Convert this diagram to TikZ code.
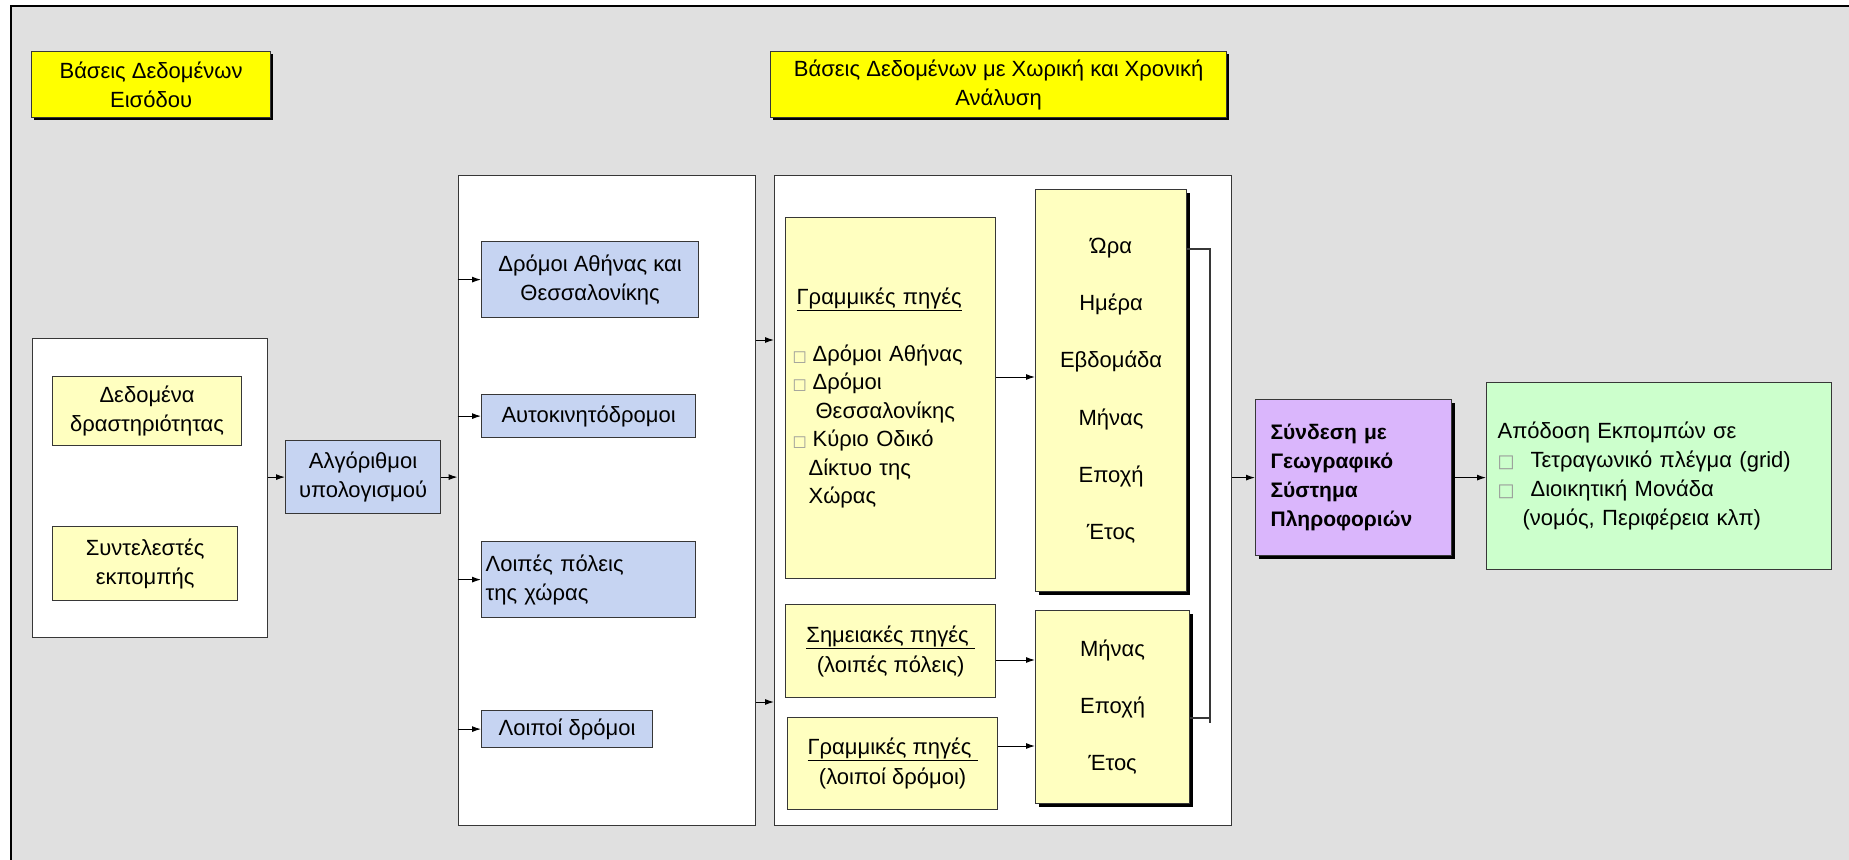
\documentclass[tikz,border=0pt]{standalone}
\usepackage{fontspec}
\setmainfont{Liberation Sans}
\newfontfamily\bulfont{DejaVu Sans}
\usetikzlibrary{arrows.meta,shadows}
\definecolor{bg}{RGB}{224,224,224}
\definecolor{ttl}{RGB}{255,255,0}
\definecolor{ly}{RGB}{255,255,192}
\definecolor{lb}{RGB}{198,212,242}
\definecolor{pur}{RGB}{218,182,252}
\definecolor{grn}{RGB}{204,255,204}
\definecolor{edgec}{RGB}{55,55,55}
\definecolor{bulg}{RGB}{150,150,150}
\newcommand\bulsq{{\bulfont\fontsize{15}{15}\selectfont\color{bulg}□}}
\newcommand\bulsqb{{\bulfont\fontsize{18}{18}\selectfont\color{bulg}□}}
\begin{document}
\begin{tikzpicture}[x=1pt,y=-1pt,
  base/.style={draw=edgec, line width=1.2pt, inner sep=0pt, anchor=north west,
    font=\fontsize{22}{29}\selectfont, align=center},
  panel/.style={base, fill=white},
  ttlbox/.style={base, fill=ttl, drop shadow={shadow xshift=2.5pt, shadow yshift=-2.5pt, fill=black, opacity=1}},
  lybox/.style={base, fill=ly},
  lbbox/.style={base, fill=lb},
  tbox/.style={base, fill=ly, font=\fontsize{22}{57.3}\selectfont,
    drop shadow={shadow xshift=3.5pt, shadow yshift=-3.5pt, fill=black, opacity=1}},
  arr/.style={draw=black, line width=1pt, -{Latex[length=9pt,width=6pt]}},
  conn/.style={draw=edgec, line width=1.2pt}
]
\useasboundingbox (0,0) rectangle (1849,859);
\fill[white] (0,0) rectangle (1849,859);
\fill[bg] (11,6) rectangle (1860,870);
\draw[black, line width=2.6pt] (11,880) -- (11,6) -- (1870,6);

% titles
\node[ttlbox, minimum width=239pt, minimum height=66pt] (intitle) at (31,51) {Βάσεις Δεδομένων\\Εισόδου};
\node[ttlbox, minimum width=456pt, minimum height=66pt] (midtitle) at (770,51) {Βάσεις Δεδομένων με Χωρική και Χρονική\\Ανάλυση};

% left panel
\node[panel, minimum width=235pt, minimum height=299pt] (lp) at (31.5,338) {};
\node[lybox, minimum width=189pt, minimum height=69pt] (dd) at (52,376) {Δεδομένα\\δραστηριότητας};
\node[lybox, minimum width=185pt, minimum height=74pt] (se) at (52,526) {Συντελεστές\\εκπομπής};

% algorithm
\node[lbbox, minimum width=155pt, minimum height=73pt] (algo) at (285,440) {Αλγόριθμοι\\υπολογισμού};

% middle panel
\node[panel, minimum width=297pt, minimum height=650pt] (mp) at (457.5,175) {};
\node[lbbox, minimum width=217pt, minimum height=76pt] (b1) at (481,241) {Δρόμοι Αθήνας και\\Θεσσαλονίκης};
\node[lbbox, minimum width=214pt, minimum height=43pt] (b2) at (481,394) {Αυτοκινητόδρομοι};
\node[lbbox, minimum width=214pt, minimum height=76pt, align=left, text width=206pt, inner xsep=4pt] (b3) at (481,541) {Λοιπές πόλεις\\της χώρας};
\node[lbbox, minimum width=171pt, minimum height=37pt] (b4) at (481,710) {Λοιποί δρόμοι};

% right panel
\node[panel, minimum width=457pt, minimum height=650pt] (rp) at (774,175) {};
\node[lybox, minimum width=210pt, minimum height=361pt, align=left, text width=196pt, inner xsep=7pt,
  font=\fontsize{22}{28.5}\selectfont] (gp) at (785,217)
  {\hspace*{4pt}\underline{Γραμμικές πηγές}\\[28.5pt]
   \makebox[20pt][l]{\bulsq}Δρόμοι Αθήνας\\
   \makebox[20pt][l]{\bulsq}Δρόμοι\\
   \hspace*{23pt}Θεσσαλονίκης\\
   \makebox[20pt][l]{\bulsq}Κύριο Οδικό\\
   \hspace*{16pt}Δίκτυο της\\
   \hspace*{16pt}Χώρας};
\node[tbox, minimum width=151pt, minimum height=402pt] (t1) at (1035,189) {Ώρα\\Ημέρα\\Εβδομάδα\\Μήνας\\Εποχή\\Έτος};
\node[lybox, minimum width=210pt, minimum height=93pt, font=\fontsize{22}{30}\selectfont] (sp) at (785,604) {\underline{Σημειακές πηγές\ }\\(λοιπές πόλεις)};
\node[lybox, minimum width=210pt, minimum height=92pt, font=\fontsize{22}{30}\selectfont] (gl) at (787,717) {\underline{Γραμμικές πηγές\ }\\(λοιποί δρόμοι)};
\node[tbox, minimum width=154pt, minimum height=193pt] (t2) at (1035,610) {Μήνας\\Εποχή\\Έτος};

% GIS and output
\node[base, fill=pur, minimum width=196pt, minimum height=156pt, align=left, text width=166pt, inner xsep=15pt,
  font=\bfseries\fontsize{21}{29}\selectfont,
  drop shadow={shadow xshift=3pt, shadow yshift=-3pt, fill=black, opacity=1}] (gis) at (1255,399)
  {Σύνδεση με\\Γεωγραφικό\\Σύστημα\\Πληροφοριών};
\node[base, fill=grn, minimum width=345pt, minimum height=187pt, align=left, text width=323pt, inner xsep=11pt,
  font=\fontsize{22}{29}\selectfont] (grn) at (1486,382)
  {Απόδοση Εκπομπών σε\\
   \makebox[33pt][l]{\bulsqb}Τετραγωνικό πλέγμα (grid)\\
   \makebox[33pt][l]{\bulsqb}Διοικητική Μονάδα\\
   \hspace*{25pt}(νομός, Περιφέρεια κλπ)};

% connectors
\draw[arr] (algo.west -| lp.east) -- (algo.west);
\draw[arr] (algo.east) -- (algo.east -| mp.west);
\draw[arr] (mp.west |- b1.west) -- (b1.west);
\draw[arr] (mp.west |- b2.west) -- (b2.west);
\draw[arr] (mp.west |- b3.west) -- (b3.west);
\draw[arr] (mp.west |- b4.west) -- (b4.west);
\draw[arr] (mp.east |- {0,340}) -- (rp.west |- {0,340});
\draw[arr] (mp.east |- {0,702}) -- (rp.west |- {0,702});
\draw[arr] (gp.east |- {0,377}) -- (t1.west |- {0,377});
\draw[arr] (sp.east |- {0,660}) -- (t2.west |- {0,660});
\draw[arr] (gl.east |- {0,746}) -- (t2.west |- {0,746});
\coordinate (jtop) at (1210,249);
\coordinate (jbot) at (1210,723);
\draw[conn] (t1.east |- jtop) -- (jtop) -- (jbot);
\draw[conn] (t2.east |- {0,718}) -- (jbot |- {0,718});
\draw[arr] (rp.east |- gis.west) -- (gis.west);
\draw[arr] (gis.east) -- (gis.east -| grn.west);
\end{tikzpicture}
\end{document}
